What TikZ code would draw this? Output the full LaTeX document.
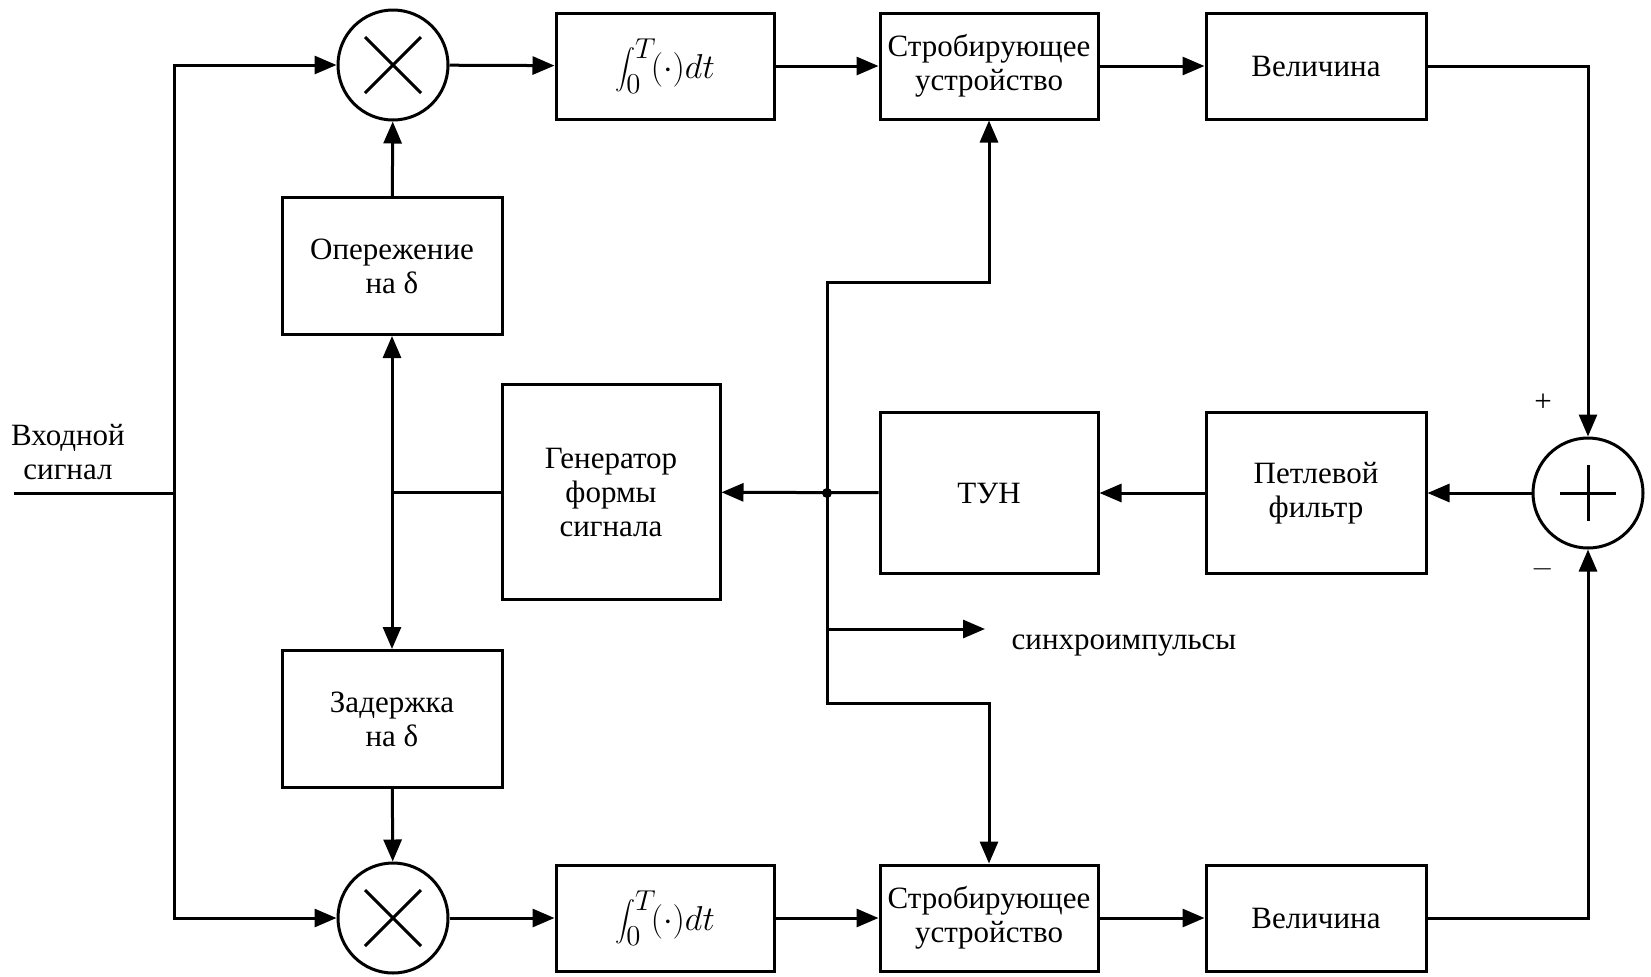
\documentclass[tikz,border=0pt]{standalone}
\usepackage{fontspec}
\setmainfont{Liberation Serif}
\usetikzlibrary{arrows.meta}

\begin{document}
\begin{tikzpicture}[x=0.5pt,y=0.5pt,yscale=-1,
  line width=1.5pt, >={Triangle[length=11pt,width=9pt]},
  font=\fontsize{15.5}{17}\selectfont,
  blk/.style={draw,line width=1.5pt,minimum width=109pt,minimum height=53pt,align=center,inner sep=1pt},
  intg/.style={blk,font=\fontsize{19}{22}\selectfont},
  mixer/.style={draw,circle,line width=1.5pt,minimum size=55pt,inner sep=0pt,
    path picture={\draw[line width=1.5pt] ([shift={(-14pt,-14pt)}]path picture bounding box.center) -- ([shift={(14pt,14pt)}]path picture bounding box.center);
      \draw[line width=1.5pt] ([shift={(-14pt,14pt)}]path picture bounding box.center) -- ([shift={(14pt,-14pt)}]path picture bounding box.center);}},
  adder/.style={draw,circle,line width=1.5pt,minimum size=55pt,inner sep=0pt,
    path picture={\draw[line width=1.5pt] ([xshift=-14pt]path picture bounding box.center) -- ([xshift=14pt]path picture bounding box.center);
      \draw[line width=1.5pt] ([yshift=-14pt]path picture bounding box.center) -- ([yshift=14pt]path picture bounding box.center);}}
]
\useasboundingbox (0,0) rectangle (1651,976);

% upper branch
\node [mixer] (mulA) at (393,65) {};
\node [intg] (intA) at (665,66) {$\displaystyle\int_0^T\!(\cdot)dt$};
\node [blk] (strA) at (989,66) {Стробирующее\\устройство};
\node [blk,minimum width=110pt] (magA) at (1316,66) {Величина};

% middle
\node [blk,minimum width=110pt,minimum height=68.5pt] (lead) at (392,266) {Опережение\\на δ};
\node [blk,minimum height=107.5pt] (gen) at (611,492) {Генератор\\формы\\сигнала};
\node [blk,minimum height=80.5pt] (vco) at (989,493) {ТУН};
\node [blk,minimum width=110pt,minimum height=80.5pt] (loopf) at (1316,493) {Петлевой\\фильтр};
\node [adder] (sum) at (1588,493) {};
\node [blk,minimum width=110pt,minimum height=68.5pt] (lag) at (392,719) {Задержка\\на δ};

% lower branch
\node [mixer] (mulB) at (393,918) {};
\node [intg] (intB) at (665,918) {$\displaystyle\int_0^T\!(\cdot)dt$};
\node [blk] (strB) at (989,918) {Стробирующее\\устройство};
\node [blk,minimum width=110pt] (magB) at (1316,918) {Величина};

% labels
\node [align=center] (inlbl) at (68,452) {Входной\\сигнал};
\node (sync) at (1124,646) {синхроимпульсы};
\node (plus) at (1543,403) {+};
\node (minus) at (1543,569) {$-$};

\coordinate (in0) at (14,493);
\coordinate (bus) at (174,493);
\coordinate (tap) at (827,493);
\coordinate (upT) at (827,282);
\coordinate (dnT) at (827,703);
\coordinate (syncT) at (827,629);
\coordinate (syncE) at (985,629);

% input bus
\draw (in0) -- (bus);
\draw [->] (bus) |- (mulA);
\draw [->] (bus) |- (mulB);

% signal paths
\draw [->] (mulA) -- (intA);
\draw [->] (intA) -- (strA);
\draw [->] (strA) -- (magA);
\draw [->] (mulB) -- (intB);
\draw [->] (intB) -- (strB);
\draw [->] (strB) -- (magB);
\draw [->] (magA) -| (sum);
\draw [->] (magB) -| (sum);

% loop
\draw [->] (sum) -- (loopf);
\draw [->] (loopf) -- (vco);
\draw [->] (vco) -- (gen);
\fill (tap) circle (5);
\draw [->] (tap) -- (upT) -| (strA);
\draw [->] (tap) -- (dnT) -| (strB);
\draw [->] (syncT) -- (syncE);

% early / late
\draw (gen) -- (gen -| lead);
\draw [<->] (lead) -- (lag);
\draw [->] (lead) -- (mulA);
\draw [->] (lag) -- (mulB);

\end{tikzpicture}
\end{document}
